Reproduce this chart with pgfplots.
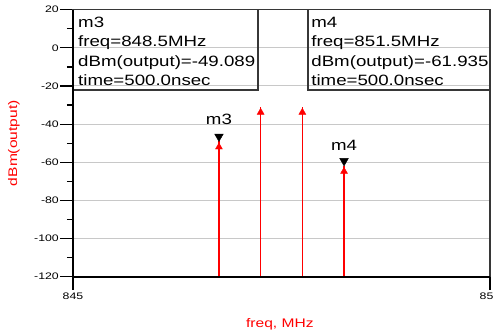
\documentclass[border=0pt]{standalone}
\usepackage{fontspec}
\setmainfont{Liberation Sans}[FakeStretch=1.25]
\newfontfamily\tickfont{Liberation Sans}[FakeStretch=1.3]
\usepackage{pgfplots}
\pgfplotsset{compat=1.18}
\definecolor{gridgray}{RGB}{200,200,200}
\definecolor{boxgray}{RGB}{55,55,55}
\begin{document}
\begin{tikzpicture}
\path[use as bounding box, clip] (-73bp,-54.3bp) rectangle (420bp,276.7bp);
\begin{axis}[
  scale only axis, width=417bp, height=267bp,
  xmin=845, xmax=855, ymin=-120, ymax=20,
  xtick={845,855}, ytick={-120,-100,...,20}, minor y tick num=1,
  xtick pos=bottom, ytick pos=left,
  ymajorgrids, major grid style={gridgray, line width=1bp},
  axis line style={boxgray, line width=1.2bp},
  tick style={black, line width=1.2bp},
  tick align=outside,
  major tick length=13bp, minor tick length=6bp,
  /pgf/number format/assume math mode=true,
  tick label style={font=\tickfont\fontsize{9.5}{11}\selectfont, inner sep=1bp},
  xticklabel style={yshift=-2bp},
  xlabel={freq, MHz},
  xlabel style={at={(axis description cs:0.496,-0.192)}, anchor=base, red, font=\fontsize{12.5}{14}\selectfont},
  ylabel={dBm(output)},
  ylabel style={at={(axis description cs:-0.1415,0.5)}, anchor=center, red, font=\fontsize{12.5}{14}\selectfont},
  clip=false,
  font=\fontsize{15}{18}\selectfont,
]
% marker boxes
\draw[boxgray, line width=1.5bp] (axis cs:845,20) rectangle (axis cs:849.44,-22.1);
\draw[boxgray, line width=1.5bp] (axis cs:850.64,20) rectangle (axis cs:855,-22.1);
% stems
\addplot[red, line width=1.2bp] coordinates {(848.5,-120) (848.5,-49.089)};
\addplot[red, line width=1.2bp] coordinates {(849.5,-120) (849.5,-31)};
\addplot[red, line width=1.2bp] coordinates {(850.5,-120) (850.5,-31)};
\addplot[red, line width=1.2bp] coordinates {(851.5,-120) (851.5,-61.935)};
% arrowheads
\addplot[only marks, red, mark=triangle*, mark size=4bp]
  coordinates {(848.5,-52.0) (849.5,-33.8) (850.5,-33.8) (851.5,-64.8)};
% markers
\addplot[only marks, black, mark=triangle*, mark size=5bp, mark options={rotate=180}]
  coordinates {(848.5,-46.5) (851.5,-59.3)};
\node[anchor=base, inner sep=0, yshift=16.5bp] at (axis cs:848.5,-49.089) {m3};
\node[anchor=base, inner sep=0, yshift=15bp] at (axis cs:851.5,-61.935) {m4};
% marker texts
\node[anchor=base west, inner sep=0, xshift=5bp, yshift=-17.8bp] at (axis cs:845,20) {m3};
\node[anchor=base west, inner sep=0, xshift=5bp, yshift=-37.1bp] at (axis cs:845,20) {freq=848.5MHz};
\node[anchor=base west, inner sep=0, xshift=5bp, yshift=-56.4bp] at (axis cs:845,20) {dBm(output)=-49.089};
\node[anchor=base west, inner sep=0, xshift=5bp, yshift=-75.5bp] at (axis cs:845,20) {time=500.0nsec};
\node[anchor=base west, inner sep=0, xshift=3bp, yshift=-17.8bp] at (axis cs:850.64,20) {m4};
\node[anchor=base west, inner sep=0, xshift=3bp, yshift=-37.1bp] at (axis cs:850.64,20) {freq=851.5MHz};
\node[anchor=base west, inner sep=0, xshift=3bp, yshift=-56.4bp] at (axis cs:850.64,20) {dBm(output)=-61.935};
\node[anchor=base west, inner sep=0, xshift=3bp, yshift=-75.5bp] at (axis cs:850.64,20) {time=500.0nsec};
% heavy left and bottom axis lines, x ticks
\draw[black, line width=1.6bp] (axis cs:845,20) -- (axis cs:845,-123.2);
\draw[black, line width=1.6bp] (axis cs:845,-120) -- (axis cs:855,-120);
\draw[black, line width=1.2bp] (axis cs:855,-120) -- (axis cs:855,-123.2);
\end{axis}
\end{tikzpicture}
\end{document}
